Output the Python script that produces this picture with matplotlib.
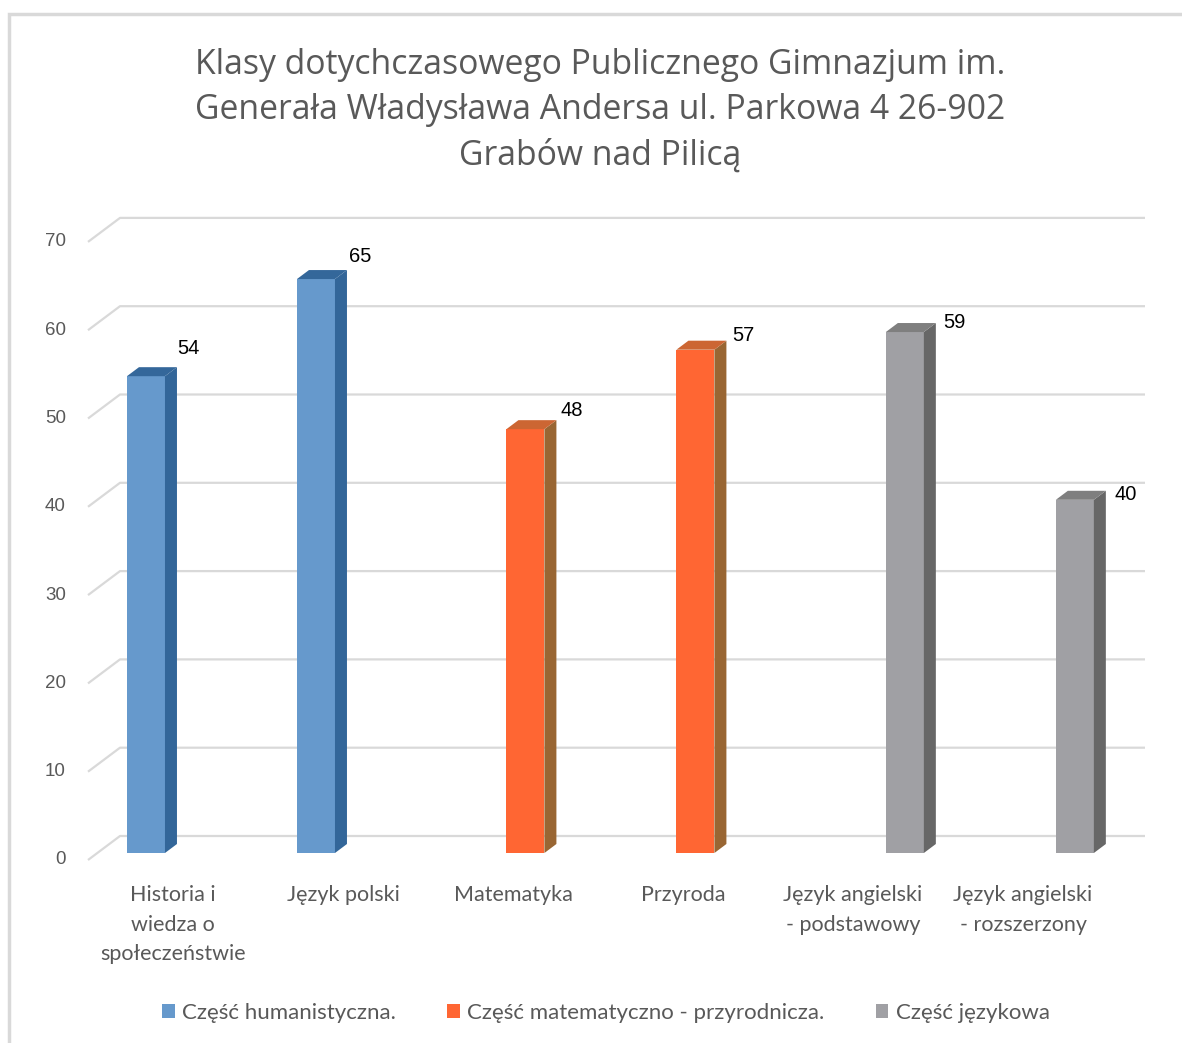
import numpy as np
import matplotlib
matplotlib.use("Agg")
import matplotlib.pyplot as plt
from matplotlib.patches import Polygon, Rectangle

# data
categories = ["Historia i\nwiedza o\nspołeczeństwie", "Język polski", "Matematyka",
              "Przyroda", "Język angielski\n- podstawowy", "Język angielski\n- rozszerzony"]
values = [54, 65, 48, 57, 59, 40]
series_idx = [0, 0, 1, 1, 2, 2]
series_names = ["Część humanistyczna.", "Część matematyczno - przyrodnicza.", "Część językowa"]
yticks = [0, 10, 20, 30, 40, 50, 60, 70]

front_col = ["#6699CC", "#FF6633", "#A0A0A4"]
side_col = ["#336699", "#996633", "#676767"]
top_col = ["#34679A", "#CC6633", "#7F7F7F"]

W, H = 1182, 1043
fig = plt.figure(figsize=(W / 100, H / 100), dpi=100)

# axes: x pixel 80..1160, y pixel 200..880 ; category spacing 170px, 8.83px per unit
px_cat, px_unit = 170.0, 8.83
x0c = 173.0
ax = fig.add_axes([80 / W, 1 - 880 / H, 1080 / W, 680 / H])
ax.set_xlim((80 - x0c) / px_cat, (1160 - x0c) / px_cat)
ax.set_ylim((853 - 880) / px_unit, (853 - 200) / px_unit)
ax.axis("off")

# depth offsets (data units)
bdx, bdy = 12 / px_cat, 9 / px_unit          # bar depth
gfront = -7 / px_unit                         # front floor edge relative to bar front
gback = 17 / px_unit                          # back wall relative to bar front
xl_front, xl_back, xr_back = (88 - x0c) / px_cat, (120 - x0c) / px_cat, (1145 - x0c) / px_cat

grid_c = "#D9D9D9"
for t in yticks:
    ax.plot([xl_front, xl_back, xr_back], [t + gfront, t + gback, t + gback],
            color=grid_c, lw=1.6, zorder=1, solid_capstyle="butt")
    ax.text(xl_front - 0.13, t + gfront, str(t), ha="right", va="center",
            fontsize=13.5, color="#595959", family="Liberation Sans")

# bars (clustered 3-series slots)
bw = 0.2235
slot = 0.232
offs = (np.arange(3) - 1) * slot + 0.073
for i, (v, s) in enumerate(zip(values, series_idx)):
    xc = i + offs[s]
    xa, xb = xc - bw / 2, xc + bw / 2
    ax.add_patch(Rectangle((xa, 0), bw, v, facecolor=front_col[s], edgecolor="none", zorder=3))
    ax.add_patch(Polygon([(xb, 0), (xb + bdx, bdy), (xb + bdx, v + bdy), (xb, v)],
                         closed=True, facecolor=side_col[s], edgecolor="none", zorder=3))
    ax.add_patch(Polygon([(xa, v), (xb, v), (xb + bdx, v + bdy), (xa + bdx, v + bdy)],
                         closed=True, facecolor=top_col[s], edgecolor="none", zorder=3))
    ax.text(xc + 0.25 + 0.01 * i, v + 3.1 - 0.5 * i, str(v), ha="center", va="center",
            fontsize=14.5, color="black", family="Liberation Sans", zorder=4)

# category labels
for i, c in enumerate(categories):
    ax.text(i, (853 - 885) / px_unit, c, ha="center", va="top", fontsize=15.5,
            color="#595959", family="Lato", linespacing=1.6)

# title
fig.text(600 / W, 1 - 48 / H,
         "Klasy dotychczasowego Publicznego Gimnazjum im.\nGenerała Władysława Andersa ul. Parkowa 4 26-902\nGrabów nad Pilicą",
         ha="center", va="top", fontsize=24.3, color="#595959", family="Open Sans", linespacing=1.42)

# legend
handles = [Rectangle((0, 0), 1, 1, facecolor=front_col[k], edgecolor="none") for k in range(3)]
fig.legend(handles, series_names, loc="center", bbox_to_anchor=(606 / W, 1 - 1013 / H), ncol=3,
           frameon=False, prop={"family": "Lato", "size": 16}, labelcolor="#595959",
           handlelength=0.55, handleheight=0.55, handletextpad=0.35, columnspacing=2.3)

# outer frame
fig.patches.append(Rectangle((9 / W, -0.05), 1.2, 1 - 14 / H + 0.05, transform=fig.transFigure,
                             fill=False, edgecolor="#D9D9D9", lw=2.5))

fig.savefig("out.png", dpi=100, facecolor="white")
